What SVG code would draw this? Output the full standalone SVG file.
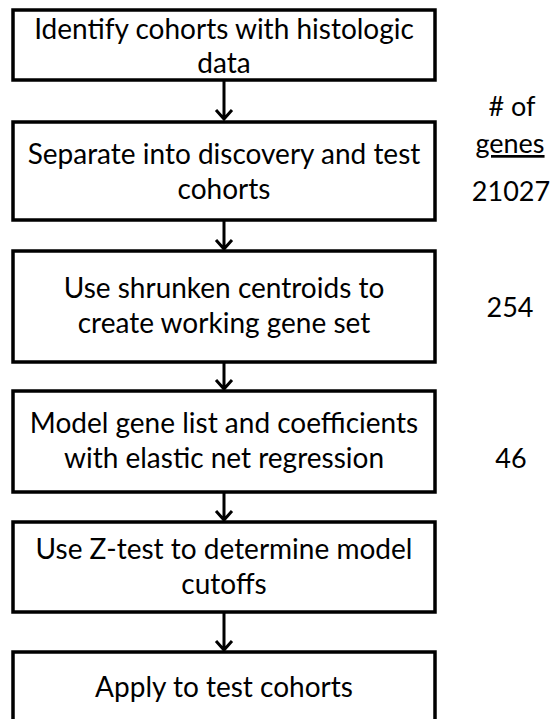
<svg xmlns="http://www.w3.org/2000/svg" width="554" height="719" viewBox="0 0 554 719">
<style>
.box{fill:#fff;stroke:#000;stroke-width:3.5}
.t{font-family:Lato,"Open Sans","Liberation Sans",sans-serif;font-size:28px;fill:#000;text-anchor:middle}
.n{font-family:Lato,"Open Sans","Liberation Sans",sans-serif;font-size:27px;fill:#000;text-anchor:middle}
.c{stroke:#000;stroke-width:3;fill:none}
</style>
<rect width="554" height="719" fill="#fff"/>
<g id="connectors">
<path class="c" d="M224 80V119M216 110L224 119L232 110"/>
<path class="c" d="M224 220V249M216 240L224 249L232 240"/>
<path class="c" d="M224 362V389M216 380L224 389L232 380"/>
<path class="c" d="M224 492V520M216 511L224 520L232 511"/>
<path class="c" d="M224 612V650M216 641L224 650L232 641"/>
</g>
<g id="n1"><rect class="box" x="13" y="10" width="422" height="70"/>
<text class="t" x="224" y="39">Identify cohorts with histologic</text><text class="t" x="224" y="73">data</text></g>
<g id="n2"><rect class="box" x="13" y="122" width="422" height="98"/>
<text class="t" x="224" y="164">Separate into discovery and test</text><text class="t" x="224" y="199">cohorts</text></g>
<g id="n3"><rect class="box" x="13" y="251" width="422" height="111"/>
<text class="t" x="224" y="298">Use shrunken centroids to</text><text class="t" x="224" y="333">create working gene set</text></g>
<g id="n4"><rect class="box" x="13" y="391" width="422" height="101"/>
<text class="t" x="224" y="433">Model gene list and coefficients</text><text class="t" x="224" y="468">with elastic net regression</text></g>
<g id="n5"><rect class="box" x="13" y="522" width="422" height="90"/>
<text class="t" x="224" y="559">Use Z-test to determine model</text><text class="t" x="224" y="594">cutoffs</text></g>
<g id="n6"><rect class="box" x="13" y="652" width="422" height="80"/>
<text class="t" x="224" y="697">Apply to test cohorts</text></g>
<g id="labels">
<text class="n" x="512" y="116"># of</text>
<text class="n" x="510" y="153" text-decoration="underline">genes</text>
<text class="n" x="511" y="201">21027</text>
<text class="n" x="510" y="317">254</text>
<text class="n" x="511" y="468">46</text>
</g>
</svg>
